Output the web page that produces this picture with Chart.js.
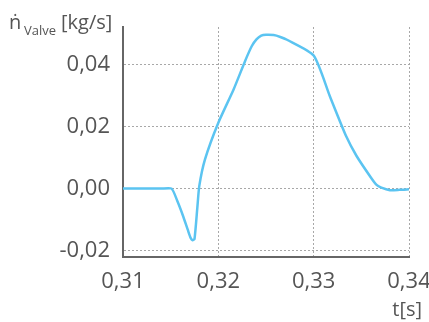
<!DOCTYPE html>
<html>
<head>
<meta charset="utf-8">
<script src="https://cdn.jsdelivr.net/npm/chart.js@4"></script>
<style>
html,body{margin:0;padding:0;background:#fff;}
#wrap{width:429px;height:322px;position:relative;}
</style>
</head>
<body>
<div id="wrap"><canvas id="c" width="429" height="322"></canvas></div>
<script>
const timeS = [0.3100, 0.3140, 0.3151, 0.3157, 0.3163, 0.3168, 0.3171, 0.3173, 0.3175, 0.3178, 0.3180, 0.3186, 0.3200, 0.3216, 0.3228, 0.3235, 0.3240, 0.3245, 0.3250, 0.3258, 0.3265, 0.3272, 0.3300, 0.3317, 0.3334, 0.3345, 0.3360, 0.3366, 0.3371, 0.3380, 0.3390, 0.3400];
const massFlow = [0.0000, 0.0000, 0.0000, -0.0040, -0.0088, -0.0133, -0.0159, -0.0166, -0.0162, -0.0060, 0.0008, 0.0094, 0.0212, 0.0319, 0.0410, 0.0458, 0.0480, 0.0492, 0.0495, 0.0494, 0.0488, 0.0479, 0.0428, 0.0297, 0.0169, 0.0105, 0.0036, 0.0012, 0.0003, -0.0005, -0.0004, -0.0002];
const xTicks = [0.31, 0.32, 0.33, 0.34];
const yTicks = [-0.02, 0.00, 0.02, 0.04];
const yLabelMain = "ṅ";
const yLabelSub = "Valve";
const yLabelUnit = "[kg/s]";
const xLabel = "t[s]";

const FONT = "'Open Sans', sans-serif";
const fmt = (v, d) => v.toFixed(d).replace('.', ',');

const labelPlugin = {
  id: 'labels',
  afterDraw(chart) {
    const ctx = chart.ctx;
    ctx.save();
    ctx.fillStyle = '#555';
    ctx.textBaseline = 'alphabetic';
    ctx.textAlign = 'left';
    ctx.font = "20px " + FONT;
    ctx.fillText(yLabelMain, 9, 29);
    ctx.font = "13px " + FONT;
    ctx.fillText(yLabelSub, 24, 35);
    ctx.font = "20px " + FONT;
    ctx.fillText(yLabelUnit, 61, 29);
    ctx.textAlign = 'right';
    ctx.fillText(xLabel, 422, 316);
    ctx.restore();
  }
};

new Chart(document.getElementById('c'), {
  type: 'line',
  data: {
    datasets: [{
      data: timeS.map((t, i) => ({x: t, y: massFlow[i]})),
      borderColor: '#5BC4F1',
      borderWidth: 2.5,
      pointRadius: 0,
      tension: 0.2,
      fill: false
    }]
  },
  options: {
    responsive: false,
    animation: false,
    layout: {padding: {left: 0, right: 20, top: 27, bottom: 0}},
    plugins: {legend: {display: false}, tooltip: {enabled: false}},
    scales: {
      x: {
        type: 'linear',
        min: 0.31, max: 0.34,
        afterBuildTicks(s) { s.ticks = xTicks.map(v => ({value: v})); },
        afterFit(s) { s.height = 65; s.paddingLeft = 0; s.paddingRight = 0; },
        grid: {color: '#a8a8a8', lineWidth: 1, drawTicks: false},
        border: {display: true, color: '#666', width: 2, dash: [2, 2]},
        ticks: {
          color: '#555', font: {family: FONT, size: 22}, padding: 12,
          maxRotation: 0, autoSkip: false,
          callback: v => fmt(v, 2)
        }
      },
      y: {
        min: -0.022, max: 0.052,
        afterBuildTicks(s) { s.ticks = yTicks.map(v => ({value: v})); },
        afterFit(s) { s.width = 123; s.paddingTop = 0; s.paddingBottom = 0; },
        grid: {color: '#a8a8a8', lineWidth: 1, drawTicks: false},
        border: {display: true, color: '#666', width: 2, dash: [2, 2]},
        ticks: {
          color: '#555', font: {family: FONT, size: 22}, padding: 13,
          autoSkip: false,
          callback: v => fmt(v, 2)
        }
      }
    }
  },
  plugins: [labelPlugin]
});
</script>
</body>
</html>
